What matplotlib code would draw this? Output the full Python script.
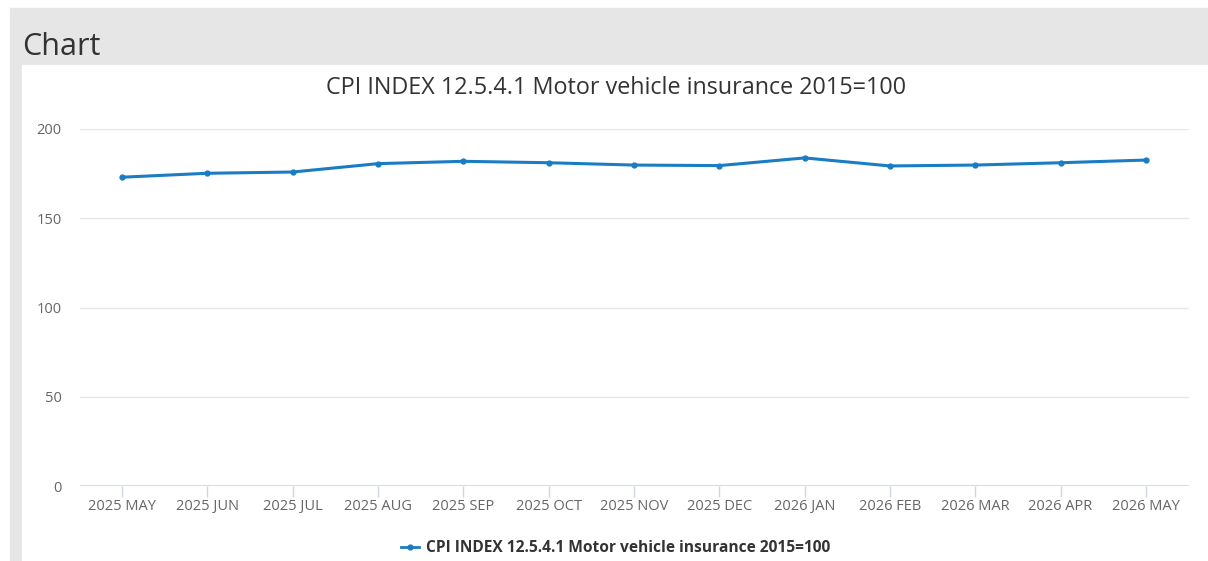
import matplotlib.pyplot as plt
from matplotlib.patches import Rectangle
from matplotlib.lines import Line2D

months = ["2025 MAY", "2025 JUN", "2025 JUL", "2025 AUG", "2025 SEP", "2025 OCT", "2025 NOV",
          "2025 DEC", "2026 JAN", "2026 FEB", "2026 MAR", "2026 APR", "2026 MAY"]
values = [173.0, 175.2, 175.9, 180.6, 181.9, 181.1, 179.8, 179.5, 183.8, 179.3, 179.8, 181.1, 182.6]
series_name = "CPI INDEX 12.5.4.1 Motor vehicle insurance 2015=100"

plt.rcParams['font.family'] = ['Open Sans', 'DejaVu Sans']
W, H = 1208, 561
fig = plt.figure(figsize=(W / 100, H / 100), dpi=100)

# grey frame + white panel
fig.patches.append(Rectangle((10 / W, 0), 1 - 10 / W, 1 - 8 / H, transform=fig.transFigure,
                             color="#e6e6e6", zorder=-2))
fig.patches.append(Rectangle((22 / W, 0), 1 - 22 / W, 1 - 65 / H, transform=fig.transFigure,
                             color="white", zorder=-1))
fig.text(22 / W, 1 - 55 / H, "Chart", fontsize=22, color="#333333", va="baseline")
fig.text(616 / W, 1 - 88 / H, series_name, fontsize=16.8, color="#333333", ha="center", va="center")

left, right, top, bottom = 79.5, 1188.5, 129, 486
ax = fig.add_axes([left / W, 1 - bottom / H, (right - left) / W, (bottom - top) / H])
ax.set_facecolor("none")
x = range(len(months))
color = "#1a7dc4"
ax.plot(x, values, color=color, lw=2.2, marker="o", ms=3.5, zorder=3, clip_on=False)
ax.set_xlim(-0.5, len(months) - 0.5)
ax.set_ylim(0, 200)
ax.set_yticks([0, 50, 100, 150, 200])
ax.set_xticks(list(x))
ax.set_xticklabels(months)
for s in ax.spines.values():
    s.set_visible(False)
ax.grid(axis="y", color="#e6e6e6", lw=1)
ax.axhline(0, color="#ccd6eb", lw=1.2, zorder=2)
ax.tick_params(axis="y", length=0, pad=13, labelsize=10.5, labelcolor="#666666")
ax.tick_params(axis="x", length=8, width=1, color="#ccd6eb", pad=1.5, labelsize=10.5, labelcolor="#666666")
ax.set_axisbelow(True)

handle = Line2D([], [], color=color, lw=2, marker="o", ms=3.5)
fig.legend([handle], [series_name], loc="center", bbox_to_anchor=(616 / W, 1 - 548 / H),
           frameon=False, prop={"weight": "bold", "size": 11.2}, handlelength=1.1,
           handletextpad=0.5, labelcolor="#333333")

fig.savefig("out.png", dpi=100)
